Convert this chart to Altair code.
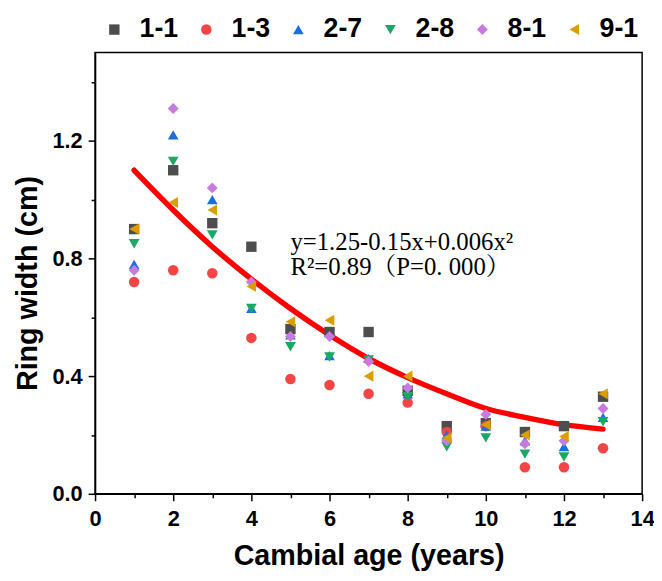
import altair as alt
import pandas as pd

# ---- data ----
ages = list(range(1, 14))
series_names = ["1-1", "1-3", "2-7", "2-8", "8-1", "9-1"]
s_1_1 = [0.90, 1.10, 0.92, 0.84, 0.56, 0.55, 0.55, 0.35, 0.23, 0.24, 0.21, 0.23, 0.33]
s_1_3 = [0.72, 0.76, 0.75, 0.53, 0.39, 0.37, 0.34, 0.31, 0.21, 0.23, 0.09, 0.09, 0.155]
s_2_7 = [0.78, 1.22, 1.00, 0.63, 0.54, 0.47, 0.46, 0.34, 0.20, 0.23, 0.18, 0.16, 0.26]
s_2_8 = [0.85, 1.13, 0.88, 0.63, 0.50, 0.465, 0.455, 0.33, 0.16, 0.19, 0.135, 0.125, 0.245]
s_8_1 = [0.76, 1.31, 1.04, 0.72, 0.535, 0.535, 0.45, 0.36, 0.18, 0.27, 0.17, 0.18, 0.29]
s_9_1 = [0.90, 0.99, 0.965, 0.705, 0.585, 0.59, 0.40, 0.40, 0.19, 0.235, 0.20, 0.195, 0.34]
fit_curve = [1.10, 0.965, 0.84, 0.73, 0.63, 0.54, 0.46, 0.395, 0.34, 0.29, 0.26, 0.235, 0.22]

colors = ["#4D4D4D", "#F44545", "#1A6FDF", "#1AA865", "#C77ADF", "#DB9E00"]
shapes = ["square", "circle", "triangle-up", "triangle-down", "diamond", "triangle-left"]
sizes = [110, 125, 140, 140, 185, 140]

note_lines = ["y=1.25-0.15x+0.006x²", "R²=0.89（P=0. 000）"]
note_x = [5.0, 5.0]
note_y = [0.83, 0.745]

x_ticks = list(range(0, 15))
y_ticks = [0.0, 0.2, 0.4, 0.6, 0.8, 1.0, 1.2, 1.4]

# ---- tables ----
all_series = [s_1_1, s_1_3, s_2_7, s_2_8, s_8_1, s_9_1]
rows = []
for name, vals in zip(series_names, all_series):
    for a, v in zip(ages, vals):
        rows.append({"age": a, "width": v, "series": name})
pts = pd.DataFrame(rows)
fit = pd.DataFrame({"age": ages, "width": fit_curve})
notes = pd.DataFrame({"age": note_x, "width": note_y, "text": note_lines})

x_scale = alt.Scale(domain=[0, 14], nice=False, zero=False)
y_scale = alt.Scale(domain=[0, 1.5], nice=False, zero=False)

x_axis = alt.Axis(
    values=x_ticks,
    labelExpr="datum.value % 2 === 0 ? datum.label : ''",
    tickSize={"condition": {"test": "datum.value % 2 === 0", "value": 7}, "value": 4},
    labelPadding=8,
    labelFlush=False,
    labelOverlap=False,
    title="Cambial age (years)",
    titleY=71,
    titleBaseline="alphabetic",
)
y_axis = alt.Axis(
    values=y_ticks,
    labelExpr="round(datum.value*10) % 4 === 0 ? format(datum.value, '.1f') : ''",
    tickSize={"condition": {"test": "round(datum.value*10) % 4 === 0", "value": 7}, "value": 4},
    labelPadding=6,
    labelFlush=False,
    labelOverlap=False,
    title="Ring width (cm)",
    titleX=-59,
    titleY=233,
    titleBaseline="alphabetic",
)

legend = alt.Legend(
    orient="none",
    legendX=6,
    legendY=-37,
    direction="horizontal",
    title=None,
    labelFont="Liberation Sans",
    labelFontSize=27,
    labelFontWeight="bold",
    labelColor="black",
    labelOffset=12,
    columnPadding=14,
    padding=0,
    symbolStrokeWidth=0,
)

line = alt.Chart(fit).mark_line(
    color="#FF0000", strokeWidth=5.5, interpolate="monotone", strokeCap="round"
).encode(
    x=alt.X("age:Q", scale=x_scale, axis=x_axis),
    y=alt.Y("width:Q", scale=y_scale, axis=y_axis),
)

points = alt.Chart(pts).mark_point(filled=True, opacity=1, strokeWidth=0).encode(
    x=alt.X("age:Q", scale=x_scale, axis=x_axis),
    y=alt.Y("width:Q", scale=y_scale, axis=y_axis),
    color=alt.Color("series:N", scale=alt.Scale(domain=series_names, range=colors), legend=legend),
    shape=alt.Shape("series:N", scale=alt.Scale(domain=series_names, range=shapes), legend=legend),
    size=alt.Size("series:N", scale=alt.Scale(domain=series_names, range=sizes), legend=legend),
)

text = alt.Chart(notes).mark_text(
    align="left",
    baseline="alphabetic",
    font="Liberation Serif, 'Noto Serif CJK SC', 'Noto Sans CJK SC', serif",
    fontSize=25,
    color="black",
).encode(
    x=alt.X("age:Q", scale=x_scale, axis=x_axis),
    y=alt.Y("width:Q", scale=y_scale, axis=y_axis),
    text="text:N",
)

chart = alt.layer(line, points, text).properties(
    width=553,
    height=446,
    padding={"left": 88, "top": 42, "right": 12, "bottom": 77},
    autosize=alt.AutoSizeParams(type="none"),
).configure_view(
    stroke="black", strokeWidth=1.5
).configure_axis(
    grid=False,
    domainColor="black",
    domainWidth=1.5,
    tickColor="black",
    tickWidth=1.5,
    labelFont="Liberation Sans",
    labelFontSize=22,
    labelFontWeight="bold",
    labelColor="black",
    titleFont="Liberation Sans",
    titleFontSize=29,
    titleFontWeight="bold",
    titleColor="black",
)

chart.save("out.html", embed_options={"renderer": "svg", "actions": False})
